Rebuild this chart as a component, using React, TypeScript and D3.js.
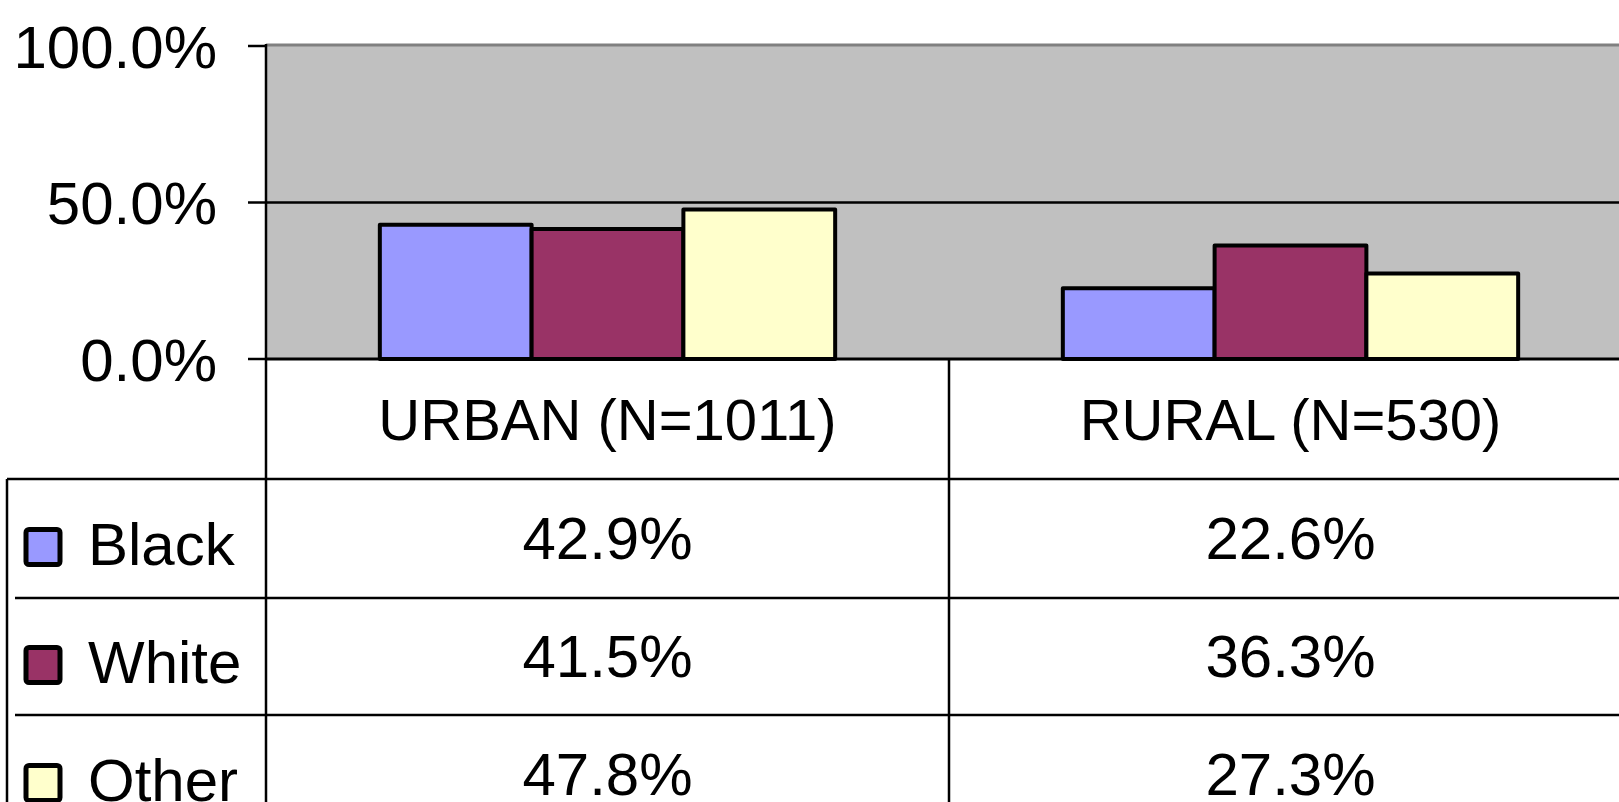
import React from 'react';
import * as d3 from 'd3';

// chart data
const categories = ['URBAN (N=1011)', 'RURAL (N=530)'];
const seriesNames = ['Black', 'White', 'Other'];
const blackValues = [0.429, 0.226];
const whiteValues = [0.415, 0.363];
const otherValues = [0.478, 0.273];
const tableLabels = [
  ['42.9%', '22.6%'],
  ['41.5%', '36.3%'],
  ['47.8%', '27.3%'],
];
const yTicks = [0, 0.5, 1];

const colors = ['#9999FF', '#993366', '#FFFFCC'];
const W = 1619;
const H = 802;
const FONT = '"Liberation Sans", Arial, sans-serif';

export default function App() {
  const values = [blackValues, whiteValues, otherValues];

  // plot area geometry
  const left = 266;
  const catWidth = 683;
  const x0 = d3.scaleBand<string>().domain(categories).range([left, left + catWidth * categories.length]);
  const x1 = d3.scaleBand<string>().domain(seriesNames).range([0, x0.bandwidth()]).paddingOuter(0.75);
  const y = d3.scaleLinear().domain([0, 1]).range([359, 46]);

  const headerBottom = 479;
  const rowH = [479, 598, 715, 834];

  return (
    <svg
      width={W}
      height={H}
      style={{ position: 'absolute', left: 0, top: 0, background: '#fff' }}
      fontFamily={FONT}
    >
      {/* plot area */}
      <rect x={left} y={44} width={W - left} height={y(0) - 44} fill="#C0C0C0" />
      <line x1={left} x2={W} y1={45} y2={45} stroke="#808080" strokeWidth={3} />
      <line x1={left} x2={W} y1={y(0.5)} y2={y(0.5)} stroke="#000" strokeWidth={2.5} />

      {/* bars */}
      {seriesNames.map((s, si) =>
        categories.map((c, ci) => (
          <rect
            key={s + c}
            x={(x0(c) ?? 0) + (x1(s) ?? 0)}
            y={y(values[si][ci])}
            width={x1.bandwidth()}
            height={y(0) - y(values[si][ci])}
            fill={colors[si]}
            stroke="#000"
            strokeWidth={4}
            strokeLinejoin="round"
          />
        ))
      )}

      {/* y axis */}
      <line x1={left} x2={left} y1={44} y2={H} stroke="#000" strokeWidth={2.5} />
      <line x1={left} x2={W} y1={y(0)} y2={y(0)} stroke="#000" strokeWidth={3} />
      {yTicks.map(t => (
        <g key={t}>
          <line x1={248} x2={left} y1={y(t)} y2={y(t)} stroke="#000" strokeWidth={2.5} />
          <text x={217} y={y(t)} dy="0.36em" textAnchor="end" fontSize={60} fill="#000">
            {d3.format('.1%')(t)}
          </text>
        </g>
      ))}

      {/* data table: category header */}
      {categories.map((c, ci) => (
        <g key={c}>
          <line
            x1={(x0(c) ?? 0) + catWidth}
            x2={(x0(c) ?? 0) + catWidth}
            y1={y(0)}
            y2={H}
            stroke="#000"
            strokeWidth={2.5}
          />
          <text
            x={(x0(c) ?? 0) + catWidth / 2}
            y={(y(0) + headerBottom) / 2}
            dy="0.36em"
            textAnchor="middle"
            fontSize={58}
            fill="#000"
          >
            {c}
          </text>
        </g>
      ))}
      <line x1={7} x2={W} y1={headerBottom} y2={headerBottom} stroke="#000" strokeWidth={2.5} />
      <line x1={7} x2={7} y1={headerBottom} y2={H} stroke="#000" strokeWidth={2.5} />

      {/* data table rows with legend keys */}
      {seriesNames.map((s, si) => {
        const top = rowH[si];
        const bottom = rowH[si + 1];
        const mid = (top + bottom) / 2;
        return (
          <g key={s}>
            {si > 0 && <line x1={15} x2={W} y1={top} y2={top} stroke="#000" strokeWidth={2.5} />}
            <rect
              x={26}
              y={mid - 9}
              width={34}
              height={35}
              rx={3}
              fill={colors[si]}
              stroke="#000"
              strokeWidth={5}
            />
            <text x={88} y={mid + 5} dy="0.36em" fontSize={60} fill="#000">
              {s}
            </text>
            {categories.map((c, ci) => (
              <text
                key={c}
                x={(x0(c) ?? 0) + catWidth / 2}
                y={mid - 1}
                dy="0.36em"
                textAnchor="middle"
                fontSize={60}
                fill="#000"
              >
                {tableLabels[si][ci]}
              </text>
            ))}
          </g>
        );
      })}
    </svg>
  );
}
